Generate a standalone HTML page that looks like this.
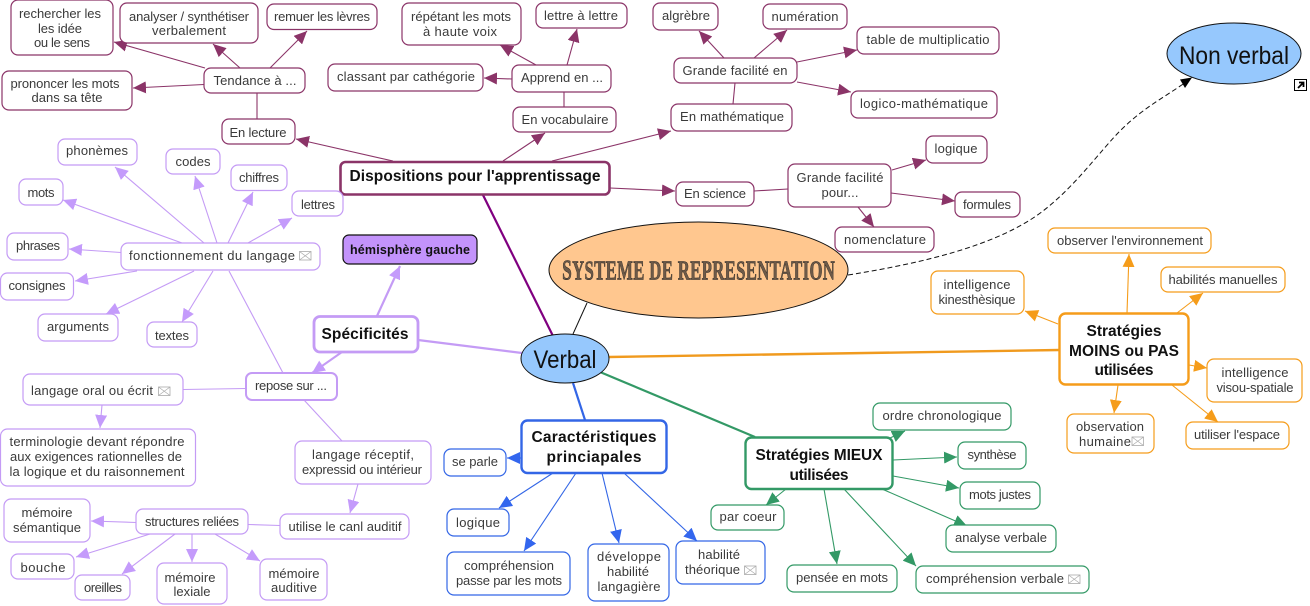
<!DOCTYPE html>
<html lang="fr"><head><meta charset="utf-8"><title>Verbal</title>
<style>
html,body{margin:0;padding:0;background:#fff;width:1310px;height:606px;overflow:hidden}
svg{display:block}
text{font-family:"Liberation Sans",sans-serif;font-size:13px;fill:#3a3a3a;text-anchor:middle}
.bt{font-weight:bold;font-size:15.5px;fill:#111}
rect{fill:#fff;stroke-width:1.2}
.env rect{fill:#fff;stroke:#aaa;stroke-width:.8}
.env path{fill:none;stroke:#aaa;stroke-width:.7}
line{fill:none}
</style></head><body>
<svg width="1310" height="606" viewBox="0 0 1310 606" xmlns="http://www.w3.org/2000/svg">
<defs>
<marker id="am" markerUnits="userSpaceOnUse" viewBox="0 0 13 12" markerWidth="13" markerHeight="12" refX="13" refY="6" orient="auto"><path d="M0,0L13,6L0,12Z" fill="#8b3468"/></marker>
<marker id="ap" markerUnits="userSpaceOnUse" viewBox="0 0 13 12" markerWidth="13" markerHeight="12" refX="13" refY="6" orient="auto"><path d="M0,0L13,6L0,12Z" fill="#c49bfb"/></marker>
<marker id="ab" markerUnits="userSpaceOnUse" viewBox="0 0 13 12" markerWidth="13" markerHeight="12" refX="13" refY="6" orient="auto"><path d="M0,0L13,6L0,12Z" fill="#3366ee"/></marker>
<marker id="ag" markerUnits="userSpaceOnUse" viewBox="0 0 13 12" markerWidth="13" markerHeight="12" refX="13" refY="6" orient="auto"><path d="M0,0L13,6L0,12Z" fill="#339966"/></marker>
<marker id="ao" markerUnits="userSpaceOnUse" viewBox="0 0 13 12" markerWidth="13" markerHeight="12" refX="13" refY="6" orient="auto"><path d="M0,0L13,6L0,12Z" fill="#f59c1a"/></marker>
</defs>

<!-- main branches -->
<line x1="483" y1="195" x2="553" y2="336" stroke="#800080" stroke-width="2.2"/>
<line x1="418" y1="340" x2="522" y2="353" stroke="#c49bf5" stroke-width="2.2"/>
<line x1="573" y1="383" x2="585" y2="420" stroke="#3366e6" stroke-width="2.2"/>
<line x1="600" y1="372" x2="755" y2="437" stroke="#339966" stroke-width="2.2"/>
<line x1="609" y1="357" x2="1059" y2="350" stroke="#f09a1e" stroke-width="2.4"/>
<line x1="573" y1="334" x2="587" y2="303" stroke="#111" stroke-width="1"/>
<path d="M848,275 C930,262 990,245 1030,220 S1100,150 1123,128 S1165,97 1186,82" fill="none" stroke="#111" stroke-width="1" stroke-dasharray="5 3"/>
<polygon points="1180,79.5 1192,77.5 1185,88" fill="#000"/>

<!-- maroon connectors -->
<g stroke="#8b3468" stroke-width="1.1">
<line x1="205" y1="68" x2="114" y2="42" marker-end="url(#am)"/>
<line x1="240" y1="68" x2="213" y2="44" marker-end="url(#am)"/>
<line x1="270" y1="68" x2="307" y2="31" marker-end="url(#am)"/>
<line x1="204" y1="84.5" x2="133" y2="88" marker-end="url(#am)"/>
<line x1="393" y1="161" x2="296" y2="139" marker-end="url(#am)"/>
<line x1="503" y1="161" x2="545" y2="133" marker-end="url(#am)"/>
<line x1="552" y1="161" x2="671" y2="131" marker-end="url(#am)"/>
<line x1="610" y1="188" x2="675" y2="191" marker-end="url(#am)"/>
<line x1="536" y1="65" x2="500" y2="45" marker-end="url(#am)"/>
<line x1="567" y1="65" x2="577" y2="29" marker-end="url(#am)"/>
<line x1="512" y1="79" x2="484" y2="78" marker-end="url(#am)"/>
<line x1="724" y1="58" x2="699" y2="31" marker-end="url(#am)"/>
<line x1="754" y1="58" x2="787" y2="30" marker-end="url(#am)"/>
<line x1="797" y1="62" x2="857" y2="50" marker-end="url(#am)"/>
<line x1="797" y1="82" x2="851" y2="92" marker-end="url(#am)"/>
<line x1="892" y1="170" x2="926" y2="160" marker-end="url(#am)"/>
<line x1="891" y1="193" x2="955" y2="201" marker-end="url(#am)"/>
<line x1="858" y1="207" x2="874" y2="227" marker-end="url(#am)"/>
<line x1="257" y1="119" x2="257" y2="93"/>
<line x1="564" y1="107" x2="564" y2="92"/>
<line x1="733" y1="104" x2="735" y2="83"/>
<line x1="754" y1="191" x2="788" y2="189"/>
</g>

<!-- purple connectors -->
<g stroke="#c49bf5" stroke-width="1.1">
<line x1="204" y1="243" x2="115" y2="167" marker-end="url(#ap)"/>
<line x1="217" y1="243" x2="195" y2="176" marker-end="url(#ap)"/>
<line x1="228" y1="243" x2="253" y2="192" marker-end="url(#ap)"/>
<line x1="182" y1="243" x2="63" y2="200" marker-end="url(#ap)"/>
<line x1="248" y1="243" x2="292" y2="218" marker-end="url(#ap)"/>
<line x1="121" y1="252.5" x2="69" y2="249" marker-end="url(#ap)"/>
<line x1="137" y1="271" x2="75" y2="281" marker-end="url(#ap)"/>
<line x1="194" y1="271" x2="106" y2="314" marker-end="url(#ap)"/>
<line x1="213" y1="271" x2="182" y2="322" marker-end="url(#ap)"/>
<line x1="283" y1="373" x2="229" y2="271"/>
<line x1="342" y1="352" x2="312" y2="373" stroke-width="2" marker-end="url(#ap)"/>
<line x1="377" y1="316" x2="400" y2="266" stroke-width="2.2" marker-end="url(#ap)"/>
<line x1="246" y1="388.5" x2="183" y2="389.5"/>
<line x1="102" y1="405" x2="100" y2="428" marker-end="url(#ap)"/>
<line x1="304" y1="400" x2="342" y2="441"/>
<line x1="358" y1="484" x2="350" y2="513" marker-end="url(#ap)"/>
<line x1="280" y1="525.5" x2="248" y2="524.5"/>
<line x1="136" y1="522.5" x2="91" y2="521" marker-end="url(#ap)"/>
<line x1="150" y1="534" x2="76" y2="557" marker-end="url(#ap)"/>
<line x1="175" y1="534" x2="122" y2="574" marker-end="url(#ap)"/>
<line x1="192" y1="534" x2="192" y2="562" marker-end="url(#ap)"/>
<line x1="215" y1="534" x2="260" y2="561" marker-end="url(#ap)"/>
</g>

<!-- blue connectors -->
<g stroke="#3366e6" stroke-width="1.1">
<line x1="521" y1="458" x2="507" y2="458" marker-end="url(#ab)"/>
<line x1="553" y1="473" x2="499" y2="508" marker-end="url(#ab)"/>
<line x1="576" y1="473" x2="524" y2="551" marker-end="url(#ab)"/>
<line x1="602" y1="473" x2="619" y2="543" marker-end="url(#ab)"/>
<line x1="624" y1="473" x2="697" y2="541" marker-end="url(#ab)"/>
</g>

<!-- green connectors -->
<g stroke="#339966" stroke-width="1.1">
<line x1="890" y1="438" x2="905" y2="431" marker-end="url(#ag)"/>
<line x1="893" y1="460" x2="957" y2="457" marker-end="url(#ag)"/>
<line x1="893" y1="476" x2="959" y2="488" marker-end="url(#ag)"/>
<line x1="882" y1="489" x2="967" y2="526" marker-end="url(#ag)"/>
<line x1="844" y1="489" x2="916" y2="566" marker-end="url(#ag)"/>
<line x1="824" y1="489" x2="837" y2="564" marker-end="url(#ag)"/>
<line x1="786" y1="489" x2="766" y2="505" marker-end="url(#ag)"/>
</g>

<!-- orange connectors -->
<g stroke="#f59c1a" stroke-width="1.1">
<line x1="1127" y1="313" x2="1129" y2="254" marker-end="url(#ao)"/>
<line x1="1177" y1="313" x2="1203" y2="293" marker-end="url(#ao)"/>
<line x1="1058" y1="324" x2="1025" y2="311" marker-end="url(#ao)"/>
<line x1="1189" y1="365" x2="1207" y2="368" marker-end="url(#ao)"/>
<line x1="1118" y1="385" x2="1114" y2="413" marker-end="url(#ao)"/>
<line x1="1172" y1="385" x2="1218" y2="422" marker-end="url(#ao)"/>
</g>

<!-- ellipses -->
<ellipse cx="698.5" cy="270" rx="149.5" ry="48" fill="#ffc78f" stroke="#111" stroke-width="1"/>
<g transform="translate(698.5,279.5) scale(.62,1)">
<text x="0" y="0" textLength="440" style="font-family:'Liberation Serif',serif;font-size:28px;font-weight:bold;fill:#6e5a48;stroke:#222;stroke-width:.5">S<tspan style="font-size:27px">YSTEME DE REPRESENTATION</tspan></text>
</g>
<ellipse cx="565" cy="358.5" rx="44" ry="24.5" fill="#96c8fd" stroke="#111" stroke-width="1"/>
<text x="565" y="368" textLength="63" lengthAdjust="spacingAndGlyphs" style="font-size:25px;fill:#111">Verbal</text>
<ellipse cx="1234" cy="53.5" rx="67" ry="30.5" fill="#96c8fd" stroke="#111" stroke-width="1"/>
<text x="1234" y="64" textLength="110" lengthAdjust="spacingAndGlyphs" style="font-size:25px;fill:#111">Non verbal</text>
<g>
<rect x="1294.5" y="79.5" width="12" height="11" style="fill:#fff;stroke:#000;stroke-width:1"/>
<path d="M1298,88L1302.5,83.5M1299,82.5H1303.5V87" fill="none" stroke="#000" stroke-width="1.8"/>
</g>

<!-- maroon boxes -->
<g stroke="#8b3468">
<rect x="11" y="0" width="102" height="55" rx="7"/>
<rect x="120" y="3" width="138" height="40" rx="7"/>
<rect x="267" y="4" width="110" height="25.5" rx="7"/>
<rect x="2" y="71" width="130" height="39" rx="7"/>
<rect x="204" y="68" width="101" height="25" rx="7"/>
<rect x="222" y="119" width="73" height="25" rx="7"/>
<rect x="402" y="3" width="119" height="42" rx="7"/>
<rect x="536" y="3" width="91" height="25" rx="7"/>
<rect x="328" y="64" width="155" height="27" rx="7"/>
<rect x="512" y="65" width="99" height="27" rx="7"/>
<rect x="513" y="107" width="103" height="25" rx="7"/>
<rect x="653" y="3" width="65" height="27" rx="7"/>
<rect x="763" y="4" width="84" height="25" rx="7"/>
<rect x="674" y="58" width="123" height="25" rx="7"/>
<rect x="671" y="104" width="121" height="27" rx="7"/>
<rect x="857" y="27" width="142" height="27" rx="7"/>
<rect x="851" y="91" width="146" height="27" rx="7"/>
<rect x="926" y="136" width="61" height="27" rx="7"/>
<rect x="788" y="164" width="103" height="43" rx="7"/>
<rect x="955" y="192" width="65" height="25" rx="7"/>
<rect x="835" y="227" width="99" height="25" rx="7"/>
<rect x="676" y="182" width="78" height="24" rx="7"/>
<rect x="340.5" y="162" width="269" height="32.5" rx="5" style="stroke-width:2.6"/>
</g>

<!-- purple boxes -->
<g stroke="#c49bf5">
<rect x="58" y="139" width="79" height="26" rx="7"/>
<rect x="166" y="149" width="54" height="25" rx="7"/>
<rect x="231" y="165" width="56" height="25.5" rx="7"/>
<rect x="19" y="179" width="44" height="26" rx="7"/>
<rect x="292" y="191" width="51" height="25" rx="7"/>
<rect x="7" y="233" width="61" height="27" rx="7"/>
<rect x="121" y="243" width="199" height="27" rx="7"/>
<rect x="0.5" y="273" width="73" height="27" rx="7"/>
<rect x="38" y="314" width="80" height="27" rx="7"/>
<rect x="147" y="322" width="50" height="25" rx="7"/>
<rect x="314" y="316.5" width="104" height="35.5" rx="6" style="stroke-width:2.8"/>
<rect x="246" y="373" width="91" height="27" rx="6" style="stroke-width:2"/>
<rect x="23" y="374" width="160" height="31" rx="7"/>
<rect x="0.5" y="429" width="195" height="57" rx="7"/>
<rect x="295" y="441" width="136" height="43" rx="7"/>
<rect x="280" y="514" width="129" height="25" rx="7"/>
<rect x="136" y="509" width="112" height="25" rx="7"/>
<rect x="4" y="499" width="86" height="43" rx="7"/>
<rect x="11" y="554" width="63" height="25" rx="7"/>
<rect x="75" y="575" width="55" height="25" rx="7"/>
<rect x="157" y="563" width="70" height="41" rx="7"/>
<rect x="260" y="559" width="67" height="41" rx="7"/>
</g>
<rect x="343" y="235" width="134" height="29" rx="6" style="fill:#c393fb;stroke:#111;stroke-width:1.2"/>

<!-- blue boxes -->
<g stroke="#3366e6">
<rect x="521.5" y="420.5" width="145" height="52.5" rx="6" style="stroke-width:2.4"/>
<rect x="444" y="449" width="62" height="27" rx="7"/>
<rect x="447" y="509" width="62" height="27" rx="7"/>
<rect x="447" y="552" width="123" height="43" rx="7"/>
<rect x="588" y="544" width="81" height="57" rx="7"/>
<rect x="676" y="541" width="89" height="43" rx="7"/>
</g>

<!-- green boxes -->
<g stroke="#339966">
<rect x="745.5" y="437.5" width="147" height="51.5" rx="6" style="stroke-width:2.4"/>
<rect x="873" y="403" width="138" height="27" rx="7"/>
<rect x="958" y="442" width="68" height="27" rx="7"/>
<rect x="960" y="482" width="80" height="27" rx="7"/>
<rect x="946" y="525" width="110" height="27" rx="7"/>
<rect x="916" y="566" width="173" height="27" rx="7"/>
<rect x="787" y="565" width="110" height="27" rx="7"/>
<rect x="711" y="505" width="73" height="25" rx="7"/>
</g>

<!-- orange boxes -->
<g stroke="#f59c1a">
<rect x="1059.5" y="313.5" width="129" height="71" rx="6" style="stroke-width:2.4"/>
<rect x="1048" y="228" width="163" height="25" rx="7"/>
<rect x="1161" y="267" width="124" height="25" rx="7"/>
<rect x="931" y="271" width="93" height="43" rx="7"/>
<rect x="1207" y="359" width="95" height="43" rx="7"/>
<rect x="1067" y="414" width="87" height="39" rx="7"/>
<rect x="1186" y="422" width="103" height="27" rx="7"/>
</g>

<!-- labels -->
<g>
<text x="60" y="18" textLength="82">rechercher les</text>
<text x="60" y="33" textLength="44">les idée</text>
<text x="62" y="47" textLength="56">ou le sens</text>
<text x="189" y="21" textLength="120">analyser / synthétiser</text>
<text x="189" y="35" textLength="74">verbalement</text>
<text x="322" y="21" textLength="96">remuer les lèvres</text>
<text x="65" y="88" textLength="109">prononcer les mots</text>
<text x="67" y="102" textLength="71">dans sa tête</text>
<text x="255" y="85" textLength="83">Tendance à ...</text>
<text x="258" y="137" textLength="57">En lecture</text>
<text x="461" y="21" textLength="100">répétant les mots</text>
<text x="460" y="36" textLength="74">à haute voix</text>
<text x="581" y="20" textLength="74">lettre à lettre</text>
<text x="406" y="81" textLength="138">classant par cathégorie</text>
<text x="562" y="82" textLength="82">Apprend en ...</text>
<text x="565" y="124" textLength="87">En vocabulaire</text>
<text x="686" y="20" textLength="48">algrèbre</text>
<text x="805" y="21" textLength="67">numération</text>
<text x="735" y="75" textLength="105">Grande facilité en</text>
<text x="732" y="121" textLength="104">En mathématique</text>
<text x="928" y="44" textLength="123">table de multiplicatio</text>
<text x="924" y="108" textLength="128">logico-mathématique</text>
<text x="956" y="153" textLength="43">logique</text>
<text x="840" y="182" textLength="87">Grande facilité</text>
<text x="840" y="197" textLength="37">pour...</text>
<text x="987" y="209" textLength="48">formules</text>
<text x="885" y="244" textLength="82">nomenclature</text>
<text x="715" y="198" textLength="62">En science</text>

<text x="97" y="155" textLength="62">phonèmes</text>
<text x="193" y="166" textLength="35">codes</text>
<text x="259" y="182" textLength="40">chiffres</text>
<text x="41" y="197" textLength="27">mots</text>
<text x="318" y="209" textLength="34">lettres</text>
<text x="38" y="250" textLength="44">phrases</text>
<text x="212" y="260" textLength="166">fonctionnement du langage</text>
<text x="37" y="290" textLength="57">consignes</text>
<text x="78" y="331" textLength="62">arguments</text>
<text x="172" y="340" textLength="34">textes</text>
<text x="291" y="390" textLength="72">repose sur ...</text>
<text x="92" y="395" textLength="122">langage oral ou écrit</text>
<text x="97" y="446" textLength="175">terminologie devant répondre</text>
<text x="96" y="461" textLength="172">aux exigences rationnelles de</text>
<text x="97" y="476" textLength="175">la logique et du raisonnement</text>
<text x="363" y="459" textLength="102">langage réceptif,</text>
<text x="362" y="474" textLength="120">expressid ou intérieur</text>
<text x="345" y="531" textLength="113">utilise le canl auditif</text>
<text x="192" y="526" textLength="94">structures reliées</text>
<text x="47" y="517" textLength="51">mémoire</text>
<text x="47" y="532" textLength="68">sémantique</text>
<text x="43" y="572" textLength="45">bouche</text>
<text x="103" y="592" textLength="38">oreilles</text>
<text x="190" y="582" textLength="51">mémoire</text>
<text x="192" y="596" textLength="37">lexiale</text>
<text x="294" y="578" textLength="51">mémoire</text>
<text x="294" y="592" textLength="46">auditive</text>

<text class="bt" x="475" y="181" textLength="251">Dispositions pour l'apprentissage</text>
<text x="410" y="254" textLength="120" style="font-weight:bold;font-size:12.5px;fill:#111">hémisphère gauche</text>
<text class="bt" x="365" y="339" textLength="87">Spécificités</text>
<text class="bt" x="594" y="442" textLength="125">Caractéristiques</text>
<text class="bt" x="594" y="462" textLength="95">princiapales</text>
<text class="bt" x="819" y="460" textLength="127">Stratégies MIEUX</text>
<text class="bt" x="819" y="480" textLength="59">utilisées</text>
<text class="bt" x="1124" y="336" textLength="75">Stratégies</text>
<text class="bt" x="1124" y="356" textLength="110">MOINS ou PAS</text>
<text class="bt" x="1124" y="375" textLength="59">utilisées</text>

<text x="475" y="466" textLength="46">se parle</text>
<text x="478" y="527" textLength="44">logique</text>
<text x="509" y="570" textLength="90">compréhension</text>
<text x="509" y="585" textLength="106">passe par les mots</text>
<text x="629" y="561" textLength="64">développe</text>
<text x="628" y="576" textLength="42">habilité</text>
<text x="629" y="591" textLength="63">langagière</text>
<text x="719" y="559" textLength="42">habilité</text>
<text x="712.5" y="574" textLength="55">théorique</text>

<text x="942" y="420" textLength="119">ordre chronologique</text>
<text x="992" y="459" textLength="49">synthèse</text>
<text x="1000" y="499" textLength="62">mots justes</text>
<text x="1001" y="542" textLength="92">analyse verbale</text>
<text x="995" y="583" textLength="138">compréhension verbale</text>
<text x="842" y="582" textLength="92">pensée en mots</text>
<text x="748" y="521" textLength="57">par coeur</text>

<text x="1130" y="245" textLength="146">observer l'environnement</text>
<text x="1223" y="284" textLength="109">habilités manuelles</text>
<text x="977" y="289" textLength="67">intelligence</text>
<text x="977" y="304" textLength="77">kinesthèsique</text>
<text x="1255" y="377" textLength="67">intelligence</text>
<text x="1255" y="392" textLength="77">visou-spatiale</text>
<text x="1110" y="431" textLength="68">observation</text>
<text x="1105" y="446" textLength="52">humaine</text>
<text x="1237" y="439" textLength="86">utiliser l'espace</text>
</g>

<!-- envelope icons -->
<g class="env">
<g transform="translate(299.5,251.5)"><rect width="11.5" height="8.5"/><path d="M0,0L11.5,8.5M11.5,0L0,8.5"/></g>
<g transform="translate(158.5,387)"><rect width="11.5" height="8.5"/><path d="M0,0L11.5,8.5M11.5,0L0,8.5"/></g>
<g transform="translate(744.5,566)"><rect width="11.5" height="8.5"/><path d="M0,0L11.5,8.5M11.5,0L0,8.5"/></g>
<g transform="translate(1068.5,575)"><rect width="11.5" height="8.5"/><path d="M0,0L11.5,8.5M11.5,0L0,8.5"/></g>
<g transform="translate(1132,437)"><rect width="11.5" height="8.5"/><path d="M0,0L11.5,8.5M11.5,0L0,8.5"/></g>
</g>
</svg>
</body></html>
